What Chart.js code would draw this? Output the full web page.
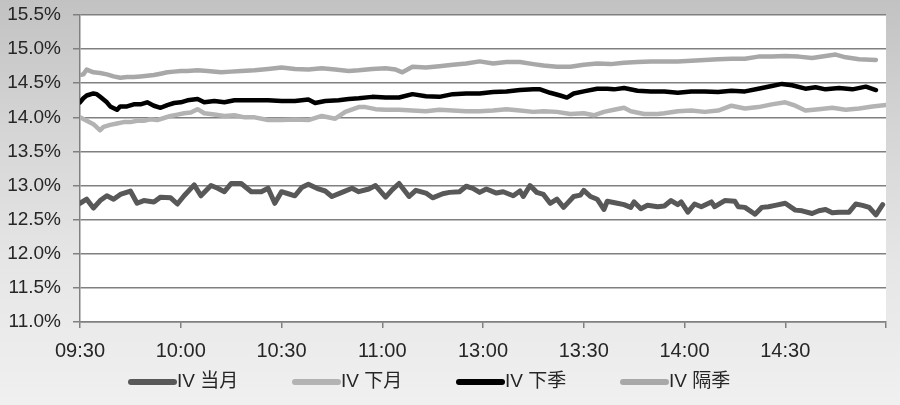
<!DOCTYPE html>
<html><head><meta charset="utf-8">
<script src="https://cdn.jsdelivr.net/npm/chart.js@4.4.1/dist/chart.umd.min.js"></script>
<style>
html,body{margin:0;padding:0;}
body{width:900px;height:405px;overflow:hidden;background:linear-gradient(180deg,#c2c2c2 0%,#d4d4d4 30%,#e6e6e6 65%,#f0f0f0 100%);}
canvas{display:block;}
</style></head><body>
<canvas id="c" width="900" height="405"></canvas>
<script>
// ---- data (minutes since 09:30 open, trading time; IV in %) ----
const seriesNames = ['IV 当月', 'IV 下月', 'IV 下季', 'IV 隔季'];
const xTickLabels = ['09:30','10:00','10:30','11:00','13:00','13:30','14:00','14:30'];
const yTickMin = 11.0, yTickMax = 15.5, yTickStep = 0.5;

const curT = [0,2,4,6,8,10,12,15,17,19,22,24,27,29,31,34,36,39,41,43,45,48,51,54,56,58,60,62,64,66,68,71,73,75,78,81,83,86,88,91,93,95,98,100,103,105,108,110,113,115,117,119,121,124,126,129,131,132,134,136,138,140,142,144,147,149,150,152,154,156,157,160,162,164,165,167,169,172,174,176,178,179,181,183,185,188,189,192,195,196,198,201,203,205,207,210,213,215,218,220,222,224,226,229,231,233,235,237,239];
const curV = [12.74,12.80,12.67,12.78,12.85,12.80,12.87,12.92,12.74,12.78,12.76,12.83,12.82,12.73,12.85,13.01,12.85,13.00,12.96,12.91,13.03,13.03,12.91,12.91,12.96,12.74,12.91,12.88,12.85,12.97,13.02,12.95,12.92,12.84,12.90,12.96,12.91,12.95,13.00,12.83,12.94,13.03,12.84,12.93,12.89,12.82,12.88,12.90,12.91,12.99,12.96,12.90,12.95,12.89,12.91,12.85,12.92,12.84,13.00,12.90,12.87,12.74,12.80,12.68,12.84,12.86,12.93,12.84,12.80,12.65,12.77,12.74,12.72,12.68,12.76,12.66,12.71,12.69,12.70,12.78,12.72,12.76,12.61,12.73,12.69,12.76,12.69,12.78,12.77,12.69,12.68,12.58,12.68,12.69,12.71,12.74,12.64,12.63,12.59,12.63,12.65,12.60,12.61,12.61,12.73,12.71,12.68,12.57,12.72];

const nextT = [0,2,4,6,7,9,11,13,15,17,19,21,23,25,27,29,31,33,35,37,40,43,46,49,52,56,60,64,68,72,76,79,83,85,88,91,95,99,103,107,111,115,119,123,127,131,135,138,142,146,150,153,156,159,162,164,168,172,174,178,182,186,190,194,198,202,206,210,213,216,220,224,228,232,236,240];
const nextV = [14.00,13.95,13.90,13.81,13.86,13.89,13.91,13.93,13.93,13.95,13.95,13.97,13.96,13.99,14.02,14.04,14.06,14.07,14.12,14.06,14.04,14.02,14.03,14.00,14.00,13.96,13.96,13.97,13.96,14.02,13.98,14.08,14.15,14.15,14.12,14.11,14.11,14.10,14.09,14.11,14.10,14.09,14.09,14.10,14.12,14.10,14.08,14.09,14.08,14.05,14.06,14.03,14.08,14.11,14.14,14.09,14.05,14.05,14.06,14.09,14.10,14.08,14.10,14.17,14.13,14.15,14.19,14.22,14.17,14.10,14.12,14.14,14.11,14.13,14.16,14.18];

const qtrT = [0,1,2,4,5,6,8,9,11,12,14,16,18,20,22,24,26,28,30,32,35,37,40,43,46,49,52,56,60,64,68,70,73,77,80,83,87,91,95,99,103,107,111,115,119,123,127,131,135,137,140,143,145,147,150,154,157,159,162,166,170,174,178,182,186,190,194,198,202,206,209,212,216,219,222,226,230,234,237];
const qtrV = [14.22,14.28,14.32,14.35,14.34,14.30,14.22,14.16,14.11,14.16,14.16,14.19,14.19,14.22,14.17,14.14,14.18,14.21,14.22,14.25,14.27,14.22,14.24,14.22,14.25,14.25,14.25,14.25,14.24,14.24,14.26,14.21,14.24,14.25,14.27,14.28,14.30,14.29,14.29,14.34,14.31,14.30,14.34,14.35,14.35,14.37,14.38,14.40,14.41,14.41,14.36,14.32,14.29,14.35,14.38,14.42,14.42,14.41,14.43,14.39,14.38,14.38,14.36,14.38,14.38,14.37,14.39,14.38,14.42,14.46,14.49,14.47,14.42,14.44,14.41,14.43,14.41,14.45,14.40];

const farT = [0,1,2,4,6,8,10,12,14,16,18,20,22,24,26,28,30,32,35,38,42,45,48,52,56,60,64,68,72,76,80,83,87,91,94,96,99,103,107,111,115,119,123,127,131,135,138,142,146,150,154,158,162,166,170,174,178,182,186,190,194,198,202,206,210,214,218,222,225,228,232,237];
const farV = [14.62,14.63,14.70,14.66,14.65,14.63,14.60,14.58,14.59,14.59,14.60,14.61,14.62,14.64,14.66,14.67,14.68,14.68,14.69,14.68,14.66,14.67,14.68,14.69,14.71,14.73,14.71,14.70,14.72,14.70,14.68,14.69,14.71,14.72,14.70,14.66,14.74,14.73,14.75,14.77,14.79,14.82,14.79,14.81,14.81,14.78,14.76,14.74,14.74,14.77,14.79,14.78,14.80,14.81,14.82,14.82,14.82,14.83,14.84,14.85,14.86,14.86,14.89,14.89,14.90,14.89,14.87,14.90,14.92,14.88,14.85,14.84];

// ---- rendering ----
const FONT = '"Liberation Sans", Arial, "Noto Sans CJK SC", sans-serif';
const pts = (t, v) => t.map((x, i) => ({x: x, y: v[i]}));

const plotBg = {
  id: 'plotBg',
  beforeDraw(chart) {
    const {ctx, chartArea: a} = chart;
    ctx.save();
    ctx.fillStyle = '#ffffff';
    ctx.fillRect(a.left, a.top, a.right - a.left, a.bottom - a.top);
    ctx.restore();
  }
};

const lineLegend = {
  id: 'lineLegend',
  afterDraw(chart, args, o) {
    const ctx = chart.ctx;
    ctx.save();
    ctx.font = o.fontSize + 'px ' + FONT;
    ctx.textBaseline = 'middle';
    ctx.textAlign = 'left';
    chart.data.datasets.forEach((ds, i) => {
      const x = o.starts[i];
      ctx.strokeStyle = ds.borderColor;
      ctx.lineWidth = o.thickness;
      ctx.lineCap = 'round';
      ctx.beginPath();
      ctx.moveTo(x, o.y);
      ctx.lineTo(x + o.lineLen, o.y);
      ctx.stroke();
      ctx.fillStyle = o.color;
      ctx.fillText(ds.label, x + o.lineLen + o.gap, o.y);
    });
    ctx.restore();
  }
};

new Chart(document.getElementById('c'), {
  type: 'line',
  data: {
    datasets: [
      {label: seriesNames[0], data: pts(curT, curV), borderColor: '#585858', backgroundColor: '#585858', borderWidth: 5},
      {label: seriesNames[1], data: pts(nextT, nextV), borderColor: '#b3b3b3', backgroundColor: '#b3b3b3', borderWidth: 4.5},
      {label: seriesNames[2], data: pts(qtrT, qtrV), borderColor: '#000000', backgroundColor: '#000000', borderWidth: 4.5},
      {label: seriesNames[3], data: pts(farT, farV), borderColor: '#a8a8a8', backgroundColor: '#a8a8a8', borderWidth: 4.5}
    ]
  },
  options: {
    responsive: false,
    animation: false,
    devicePixelRatio: 1,
    layout: {padding: {left: 0, right: 14, top: 15, bottom: 43}},
    elements: {
      point: {radius: 0},
      line: {tension: 0, borderJoinStyle: 'round', borderCapStyle: 'round'}
    },
    plugins: {
      legend: {display: false},
      tooltip: {enabled: false},
      lineLegend: {starts: [131, 295, 459, 623], y: 382, lineLen: 43, thickness: 6, gap: 3, fontSize: 19, color: '#262626'}
    },
    scales: {
      x: {
        type: 'linear', min: 0, max: 240,
        afterFit(s) { s.height = 40; s.paddingLeft = 0; s.paddingRight = 0; },
        ticks: {
          stepSize: 30, autoSkip: false, maxRotation: 0, padding: 11,
          color: '#262626', font: {family: FONT, size: 20},
          callback: (v) => { const l = xTickLabels[v / 30]; return l === undefined ? '' : l; }
        },
        grid: {drawOnChartArea: false, drawTicks: true, tickLength: 6, color: '#808080', lineWidth: 1.5},
        border: {color: '#808080', width: 1.5}
      },
      y: {
        min: yTickMin, max: yTickMax,
        afterFit(s) { s.width = 80; s.paddingTop = 0; s.paddingBottom = 0; },
        ticks: {
          stepSize: yTickStep, padding: 12,
          color: '#262626', font: {family: FONT, size: 19},
          callback: (v) => v.toFixed(1) + '%'
        },
        grid: {color: '#808080', lineWidth: 1.5, tickLength: 7},
        border: {color: '#808080', width: 1.5}
      }
    }
  },
  plugins: [plotBg, lineLegend]
});
</script>
</body></html>
